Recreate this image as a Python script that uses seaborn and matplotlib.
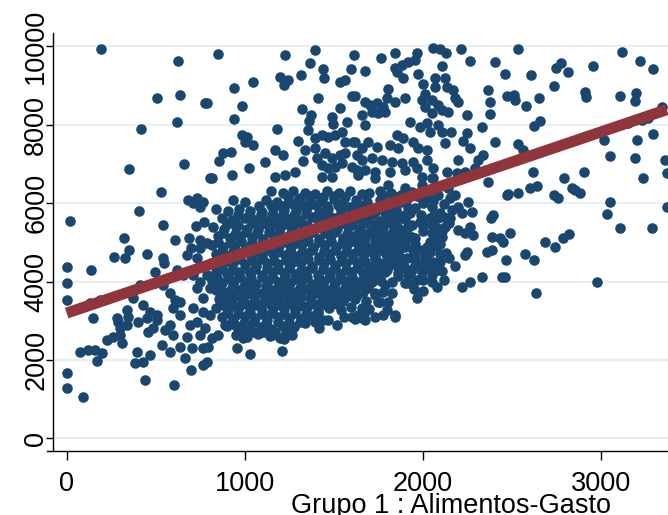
import matplotlib
matplotlib.use("Agg")
import matplotlib.pyplot as plt
import seaborn as sns
import pandas as pd

# (gasto en alimentos, gasto total), grouped by region
zona_izq_alta = [(194,9920),(624,9629),(506,8678),(635,8762),(777,8558),(620,8066),(418,7895),(350,6875),(658,6987),(805,6638)]
zona_centro_alta = [(849,9800),(1229,9774),(1397,9909),(1613,9774),(1367,9570),(1442,9417),(1448,9180),(1317,9265),(1200,9221),(1223,9009),(1245,9137),(1045,9093),(942,8925),(1538,9093),(1564,9137),(1596,9410),(1605,8736),(1414,8670),(789,8550),(987,8482),(1321,8398),(1536,8415),(1373,8244),(1362,8091),(942,8142),(1182,7887),(1489,8201),(1495,8007),(1574,8074),(1354,7862),(984,7734),(1012,7691),(1002,7563),(1049,7479),(1302,7581),(1395,7649),(1433,7734),(1470,7691),(1508,7734),(1545,7818),(1564,7563),(1611,7563),(1339,7352),(1395,7395),(1452,7267),(1489,7140),(1536,7224),(1564,7267),(1630,7224),(1171,7352),(1217,7224),(880,7267),(923,7308),(856,7071),(1114,7053),(1026,6885),(1326,7071),(1405,7140),(1433,6969),(1470,6885),(1508,6926),(1545,7012),(1602,6926),(1630,6842),(815,6630),(931,6714),(1171,6671),(1227,6714),(1283,6798),(1433,6671),(1489,6671)]
zona_der_alta = [(1766,9705),(1845,9818),(1967,9818),(1957,9647),(1920,9603),(1883,9519),(1845,9435),(1855,9348),(2060,9960),(2098,9927),(2130,9818),(2218,9927),(2267,9621),(2407,9588),(2463,9282),(2111,9502),(1677,9366),(1892,9180),(1976,9282),(2070,9195),(2126,9195),(2070,8966),(2136,8966),(2004,9027),(2014,8772),(1807,8907),(1798,8670),(1845,8584),(1901,8670),(1620,8736),(1677,8584),(1705,8499),(1742,8542),(1779,8456),(2173,8882),(2183,8670),(2201,8584),(1995,8627),(2051,8627),(2014,8456),(2089,8499),(2051,8288),(2107,8372),(2145,8328),(2370,8882),(2379,8584),(2473,8736),(2248,8244),(2379,8262),(1658,8244),(1714,8328),(1751,8288),(1789,8328),(1677,7989),(1929,8058),(1986,7946),(2023,8032),(2089,7989),(2042,7818),(2107,7818),(2332,7946),(2248,7777),(2160,7803),(1855,7734),(1892,7649),(1620,7563),(1695,7563),(1658,7395),(1742,7437),(1817,7479),(1864,7395),(1948,7563),(1976,7395),(2023,7352),(2126,7522),(2229,7581),(2267,7395),(2407,7563),(2342,7224),(2314,7097),(2201,7097),(1658,7097),(1714,7140),(1770,7097),(1827,7053),(1883,7012),(1948,7053),(2023,7097),(2060,6885),(2136,6798),(1677,6842),(1733,6798),(1817,6798),(1901,6842),(1967,6885),(2192,6757),(2238,6798),(2295,6885),(2051,6630),(1995,6671)]
zona_extrema_alta = [(2535,9927),(3119,9858),(3222,9629),(3297,9417),(2608,9264),(2778,9563),(2748,9435),(2819,9333),(2960,9494),(2739,8984),(2516,8754),(2520,8627),(2580,8482),(2656,8686),(2913,8823),(2918,8696),(3110,8729),(3199,8797),(3194,8609),(3344,8456),(2628,7971),(2660,8091),(3153,8032),(3231,8117),(3269,8160),(2538,7497),(2566,7352),(3021,7607),(3203,7607),(3297,7752),(3053,7207),(3194,7140),(3362,7097),(2622,6783),(2796,6630),(2909,6783),(3240,6630),(3372,6757)]
zona_extrema_media = [(2478,6222),(2535,6248),(2604,6375),(2641,6441),(2740,6204),(2763,6135),(2838,6390),(2857,6332),(2885,6248),(3053,6033),(3038,5712),(3110,5355),(3291,5370),(3372,5890),(2491,5228),(2689,5013),(2744,4886),(2791,5100),(2825,5217),(2576,4707),(2628,4547),(2467,4547),(2463,4121),(2982,3993),(2638,3713)]
zona_der_media = [(2370,6543),(2473,6204),(2398,5694),(2385,5625),(2392,5141),(2435,5100),(2454,5013),(2360,4758),(2389,4802),(2332,4121),(2445,4121),(2220,3866),(2267,3978),(2183,4401),(2238,4674),(2248,4758),(1967,3570),(2051,3993),(2079,3866),(1845,3144),(1798,3272),(1761,3483),(1808,3483),(1779,3738),(1733,3654),(1695,3825),(1677,3228),(1639,3144),(1658,3315),(2276,5778),(2267,5396),(2285,5184),(2238,5228),(2201,5312),(2257,6033),(2201,5906),(2220,5738),(2164,5822),(2154,6120),(2051,5906),(1995,5567),(2042,5610),(2089,5610),(2154,5610),(2126,5396),(2079,5355),(2107,5141),(2070,5141),(2042,5013),(2023,4886),(1995,4802),(2014,4590),(2060,4503),(2033,4335),(2051,4164),(1939,5141),(1892,5141),(1845,5057),(1948,4802),(1911,4590),(1957,4419),(1995,4248),(1967,4037),(1920,4164),(1864,4335),(1836,4547),(1845,4758),(1957,5865),(1901,5694),(1939,5439),(1986,5523),(1864,5355),(1808,5523),(1827,5184),(1751,5228),(1779,5013),(1733,4929),(1714,4758),(1658,4845),(1677,4503),(1639,4419),(1733,4419),(1695,4248),(1751,4164),(1639,6714),(1733,6630),(1808,6459),(1901,6375),(1995,6459),(2060,6630),(2145,6375),(2183,6204),(2089,6204),(1695,5694),(1658,5523),(1733,5355),(1677,5184),(1639,5013),(1770,6120),(1845,6033),(1920,5865),(1995,6120),(1658,3909),(1714,3993),(1630,3654),(1789,3909),(1827,3698),(1658,3060),(1733,3101),
    (1700,6250),(1760,6300),(1820,6250),(1880,6200),(1940,6280),(2000,6000),(2060,6050),(2120,5980),(1700,5900),(1760,5950),(1830,5880),(2100,5750),(2150,5500),(2000,5300),(2050,5250),(1900,5000),(1960,4950),(2100,4700),(2150,4600),(1900,4350),(2080,4300),(2120,4050)]
zona_der_densa = [(1780,6200),(1850,6150),(1910,6100),(1970,6180),(2030,6150),(1790,5750),(1860,5700),(1930,5760),(1990,5700),(2060,5680),(2120,5650),(1780,5450),(1850,5480),(1920,5420),(2050,5450),(2110,5300),(1860,5250),(1800,4850),(1870,4800),(2040,4750),(2080,4900),(1880,4600),(1960,4550),(2020,4650),(1800,4300),(1860,4150),(1940,4300),(2000,4420),(2070,4400),(1900,3950),(1950,3820),(2000,3750)]
zona_izq_media = [(530,6288),(408,5796),(19,5549),(543,5439),(322,5100),(352,4802),(328,4590),(266,4623),(450,4700),(543,4605),(547,4478),(609,5057),(689,5100),(683,6077),(731,6120),(749,5906),(711,5993),(768,6033),(727,5421),(772,5523),(697,4845),(749,4845),(787,4972),(749,5057),(0,4376),(135,4292),(496,4248),(618,4292),(655,4164),(0,3953),(0,3527),(131,3442),(187,3527),(412,3909),(496,3953),(543,3909),(374,3570),(581,3698),(609,3527),(637,3483),(711,4164),(749,3993),(787,4164),(731,3825),(768,3570),(806,3825),(674,4674),(731,4590),(150,3060),(337,3272),(281,3060),(431,3399),(468,3228),(506,3144),(599,3315),(637,3144),(711,3315),(768,3228),(806,3144)]
zona_izq_baja = [(0,1658),(0,1275),(93,1061),(75,2208),(121,2252),(159,2252),(196,2168),(168,1979),(225,2507),(262,2591),(300,2634),(309,2422),(290,2973),(337,2889),(346,3101),(300,2805),(402,2973),(450,3060),(459,2718),(487,2805),(506,3016),(393,2208),(384,1912),(431,1953),(468,2124),(440,1487),(534,2379),(581,2208),(553,2762),(581,2889),(599,2634),(637,2336),(665,2040),(674,2591),(703,2295),(749,2634),(768,2295),(787,1953),(796,2336),(693,2889),(731,2973),(605,1359),(697,1742),(764,1869)]
zona_centro_baja = [(955,2295),(1030,2142),(1208,2226),(1223,2532),(1077,2677),(1105,2718),(1152,2634),(1124,2805),(993,2550),(1002,2805),(946,2889),(890,2889),(852,2634),(815,2550),(777,2805),(1339,2932),(1395,2973),(1470,3016),(1602,3101),(1677,3016),(1779,3144),(1845,3101)]
nucleo_alto = [(1150,6300),(1215,6250),(1270,6320),(1340,6270),(1395,6240),(1460,6310),(1530,6260),(1590,6300),(1660,6240),
    (935,6070),(1000,6020),(1120,6090),(1180,6040),(1245,6010),(1300,6080),(1370,6050),(1430,6030),(1500,6100),(1555,6000),(1625,6070),(1690,6020),(1760,6090),(1880,6040),
    (840,5840),(905,5790),(970,5860),(1030,5810),(1100,5780),(1160,5850),(1220,5820),(1290,5800),(1350,5870),(1415,5770),(1470,5840),(1540,5790),(1600,5860),(1665,5810),(1730,5780),(1790,5850),(1850,5820),(1930,5800),
    (870,5610),(930,5560),(1000,5630),(1060,5580),(1125,5550),(1185,5620),(1250,5590),(1310,5570),(1380,5640),(1440,5540),(1500,5610),(1570,5560),(1630,5630),(1690,5580),(1760,5550),(1820,5620),(1900,5590),
    (820,5380),(885,5330),(950,5400),(1015,5350),(1075,5320),(1140,5390),(1200,5360),(1265,5340),(1330,5410),(1390,5310),(1455,5380),(1520,5330),(1580,5400),(1650,5350),(1710,5320),(1780,5390),(1840,5360),(1910,5340),(2000,5410),
    (850,5150),(915,5100),(975,5170),(1040,5120),(1105,5090),(1165,5160),(1230,5130),(1295,5110),(1355,5180),(1420,5080),(1480,5150),(1550,5100),(1610,5170),(1675,5120),(1740,5090),(1800,5160),(1870,5130),(1960,5110)]
nucleo_medio = [(815,4920),(880,4870),(945,4940),(1005,4890),(1070,4860),(1135,4930),(1195,4900),(1260,4880),(1325,4950),(1385,4850),(1450,4920),(1515,4870),(1575,4940),(1640,4890),(1700,4860),(1770,4930),(1830,4900),(1900,4880),(2100,4950),
    (840,4690),(905,4640),(970,4710),(1035,4660),(1095,4630),(1160,4700),(1225,4670),(1285,4650),(1350,4720),(1415,4620),(1475,4690),(1540,4640),(1605,4710),(1665,4660),(1730,4630),(1795,4700),(1860,4670),(1960,4650),(2130,4720),
    (810,4465),(875,4415),(935,4485),(1000,4435),(1065,4405),(1125,4475),(1190,4445),(1255,4425),(1315,4495),(1380,4395),(1445,4465),(1505,4415),(1570,4485),(1635,4435),(1695,4405),(1760,4475),(1825,4445),(1890,4425),(2100,4495),
    (840,4235),(900,4185),(965,4255),(1030,4205),(1095,4175),(1155,4245),(1220,4215),(1285,4195),(1345,4265),(1410,4165),(1475,4235),(1535,4185),(1600,4255),(1665,4205),(1725,4175),(1790,4245),(1860,4215),(1930,4195),(2110,4265),
    (815,4005),(875,3955),(940,4025),(1005,3975),(1065,3945),(1130,4015),(1195,3985),(1255,3965),(1320,4035),(1385,3935),(1445,4005),(1510,3955),(1575,4025),(1635,3975),(1700,3945),(1765,4015),(1830,3985),(1920,3965),(2000,4035)]
nucleo_bajo = [(840,3775),(905,3725),(965,3795),(1030,3745),(1095,3715),(1160,3785),(1220,3755),(1285,3735),(1350,3805),(1410,3705),(1475,3775),(1540,3725),(1600,3795),(1665,3745),(1730,3715),
    (855,3545),(920,3495),(985,3565),(1050,3515),(1110,3485),(1175,3555),(1240,3525),(1300,3505),(1365,3575),(1430,3475),(1490,3545),(1555,3495),(1620,3565),(1680,3515),(1750,3485),
    (840,3320),(905,3270),(970,3340),(1030,3290),(1095,3260),(1160,3330),(1220,3300),(1285,3280),(1350,3350),(1410,3250),(1475,3320),(1540,3270),(1600,3340),(1700,3290),
    (870,3090),(935,3040),(1000,3110),(1060,3060),(1125,3030),(1190,3100),(1250,3070),(1315,3050),(1380,3120),(1440,3020),(1560,3090),(1620,3040),
    (900,2860),(960,2810),(1025,2880),(1090,2830),(1150,2800),(1215,2870),(1280,2840),(1420,2820),(1520,2890),
    (950,2630),(1015,2580),(1075,2650),(1140,2600),(1200,2570),(1265,2640)]
nucleo_denso_alto = [(1245,6165),(1310,6140),(1370,6185),(1440,6150),(1500,6175),(1565,6145),
    (1080,5935),(1150,5960),(1210,5915),(1275,5950),(1335,5920),(1400,5960),(1465,5925),(1525,5945),(1590,5910),(1650,5955),
    (960,5705),(1030,5680),(1090,5725),(1155,5690),(1215,5720),(1280,5685),(1345,5715),(1410,5690),(1470,5730),(1535,5680),(1600,5710),(1660,5690),(1720,5725),
    (900,5475),(965,5450),(1040,5490),(1100,5460),(1160,5495),(1225,5455),(1290,5480),(1350,5450),(1415,5495),(1475,5465),(1540,5485),(1605,5450),(1670,5490),(1730,5460),
    (880,5245),(945,5220),(1010,5260),(1070,5230),(1135,5265),(1195,5225),(1260,5250),(1320,5220),(1385,5265),(1450,5235),(1510,5255),(1575,5220),(1640,5260),(1700,5230),(1770,5250),(1830,5225)]
nucleo_denso_medio = [(850,5015),(915,4990),(980,5030),(1040,5000),(1105,5035),(1170,4995),(1230,5020),(1295,4990),(1355,5035),(1420,5005),(1485,5025),(1545,4990),(1610,5030),(1670,5000),(1735,5025),(1800,4995),(1860,5020),
    (870,4785),(935,4760),(1000,4800),(1065,4770),(1125,4805),(1190,4765),(1255,4790),(1320,4760),(1380,4805),(1445,4775),(1505,4795),(1570,4760),(1635,4800),(1700,4770),(1760,4795),(1825,4765),
    (845,4555),(905,4530),(975,4570),(1040,4540),(1100,4575),(1165,4535),(1230,4560),(1290,4530),(1355,4575),(1420,4545),(1480,4565),(1545,4530),(1610,4570),(1670,4540),(1735,4565),(1800,4535),(1850,4560),
    (870,4330),(930,4305),(1000,4345),(1060,4315),(1125,4350),(1190,4310),(1250,4335),(1315,4305),(1380,4350),(1440,4320),(1505,4340),(1570,4305),(1630,4345),(1700,4315),(1760,4340),
    (845,4100),(910,4075),(975,4115),(1035,4085),(1100,4120),(1160,4080),(1225,4105),(1290,4075),(1350,4120),(1415,4090),(1480,4110),(1540,4075),(1605,4115),(1670,4085),(1730,4110)]
nucleo_denso_bajo = [(860,3870),(930,3845),(995,3885),(1055,3855),(1120,3890),(1185,3850),(1245,3875),(1310,3845),(1375,3890),(1435,3860),(1500,3880),(1565,3845),(1620,3885),
    (870,3640),(935,3615),(1000,3655),(1060,3625),(1125,3660),(1190,3620),(1255,3645),(1315,3615),(1380,3660),(1440,3630),(1505,3650),(1570,3615),
    (880,3410),(945,3385),(1010,3425),(1070,3395),(1140,3430),(1200,3390),(1265,3415),(1330,3385),(1390,3430),(1455,3400),(1520,3420),
    (900,3185),(965,3160),(1030,3200),(1095,3170),(1155,3205),(1220,3165),(1285,3190),(1345,3160),(1410,3205),
    (930,2955),(995,2930),(1055,2970),(1120,2940),(1185,2975),(1250,2935),(1310,2960),
    (985,2725),(1045,2700),(1110,2740),(1170,2710),(1235,2745)]

# fitted line (intercept and slope)
recta_intercepto = 3195
recta_pendiente = 1.539

x_ticks = [0, 1000, 2000, 3000]
y_ticks = [0, 2000, 4000, 6000, 8000, 10000]
x_label = "Grupo 1 : Alimentos-Gasto"

grupos = [zona_izq_alta, zona_centro_alta, zona_der_alta, zona_extrema_alta, zona_extrema_media,
          zona_der_media, zona_der_densa, zona_izq_media, zona_izq_baja, zona_centro_baja, nucleo_alto,
          nucleo_medio, nucleo_bajo, nucleo_denso_alto, nucleo_denso_medio, nucleo_denso_bajo]
pares = [p for g in grupos for p in g]
df = pd.DataFrame(pares, columns=["gasto", "total"])

x_fit = [df["gasto"].min(), df["gasto"].max()]
fit = pd.DataFrame({"gasto": x_fit, "total": [recta_intercepto + recta_pendiente * v for v in x_fit]})

sns.set_theme(style="white")
plt.rcParams['font.family'] = ['Liberation Sans', 'DejaVu Sans']

W, H = 668, 515
fig = plt.figure(figsize=(W / 100, H / 100), dpi=100)
left_px, right_px, top_px, bottom_px = 53.3, 668, 33.3, 450.7
ax = fig.add_axes([left_px / W, (H - bottom_px) / H, (right_px - left_px) / W, (bottom_px - top_px) / H])

navy = '#1A476F'
maroon = '#90353B'
sns.scatterplot(data=df, x="gasto", y="total", ax=ax, color=navy, s=58, linewidth=0, alpha=1, zorder=2)
sns.lineplot(data=fit, x="gasto", y="total", ax=ax, color=maroon, lw=8, solid_capstyle='butt', zorder=3)

ax.set_xlim(-75.3, 3379)
ax.set_ylim(-316, 10332)
ax.set_xticks(x_ticks)
ax.set_yticks(y_ticks)
ax.set_xticklabels([str(v) for v in x_ticks])
ax.set_yticklabels([str(v) for v in y_ticks], rotation=90, va='center')

ax.tick_params(axis='x', bottom=True, direction='out', length=6.5, width=1, pad=8,
               labelsize=19.5, colors='black')
ax.tick_params(axis='y', left=True, direction='out', length=5, width=1, pad=-2,
               labelsize=19.5, colors='black')

ax.yaxis.grid(True, color='#E8EFF1', lw=1.6)
ax.xaxis.grid(False)
ax.set_axisbelow(True)

for s in ['top', 'right']:
    ax.spines[s].set_visible(False)
for s in ['left', 'bottom']:
    ax.spines[s].set_color('black')
    ax.spines[s].set_linewidth(1)
ax.spines['bottom'].set_bounds(-110, 3379)

ax.set_ylabel('')
ax.set_xlabel(x_label, fontsize=19.5, color='black')
ax.xaxis.set_label_coords((451 - left_px) / (right_px - left_px), (bottom_px - 513) / (bottom_px - top_px))
ax.xaxis.label.set_va('baseline')

fig.savefig('out.png', dpi=100, facecolor='white')
